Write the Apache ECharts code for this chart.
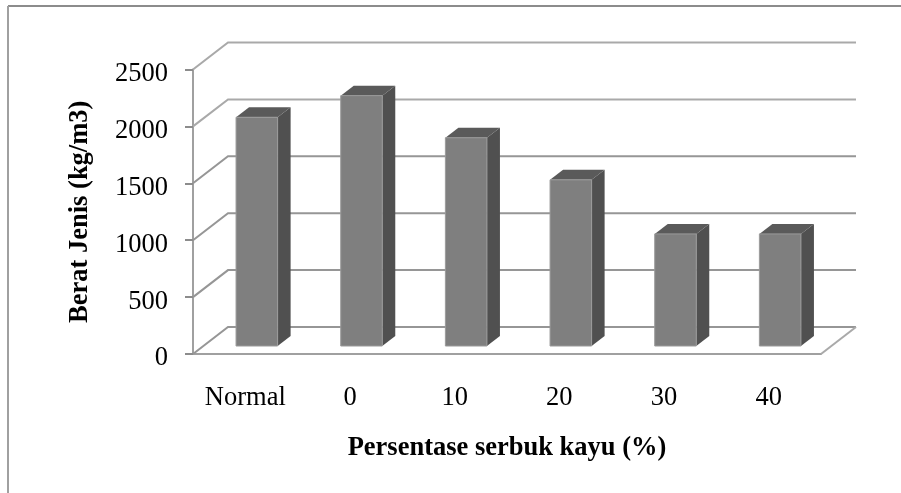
<!DOCTYPE html>
<html>
<head>
<meta charset="utf-8">
<style>
html,body{margin:0;padding:0;background:#fff;}
#chart{width:901px;height:493px;}
</style>
<script src="https://cdn.jsdelivr.net/npm/echarts@6/dist/echarts.min.js"></script>
</head>
<body>
<div id="chart"></div>
<script>
var categories = ['Normal', '0', '10', '20', '30', '40'];
var beratJenis = [2010, 2200, 1830, 1460, 985, 985];
var yTicks = [0, 500, 1000, 1500, 2000, 2500];

var fontName = '"Liberation Serif","Times New Roman",serif';
var wallDx = 35, wallDy = 27;   // depth of the chart box
var barDx = 13, barDy = 10;     // depth of one bar
var barShiftX = 11.5, barShiftY = 8;  // bars stand in the middle of the floor

function renderWall(params, api) {
	var cs = params.coordSys;
	var v = api.value(0);
	var y = api.coord([0, v])[1];
	var left = cs.x, right = cs.x + cs.width;
	var children = [{
		type: 'polyline',
		shape: {points: [[left, y], [left + wallDx, y - wallDy], [right + wallDx, y - wallDy]]},
		style: {fill: null, stroke: v === 2500 || v === 2000 ? '#a9a9a9' : '#969696', lineWidth: 2}
	}];
	if (v === 0) {
		// right edge of the floor
		children.push({
			type: 'line',
			shape: {x1: right, y1: y, x2: right + wallDx, y2: y - wallDy},
			style: {stroke: '#a9a9a9', lineWidth: 2}
		});
	}
	return {type: 'group', children: children};
}

function renderBar(params, api) {
	var top = api.coord([api.value(0), api.value(1)]);
	var base = api.coord([api.value(0), 0]);
	var w = api.size([1, 0])[0] * 0.397;
	var x0 = top[0] - w / 2 + barShiftX, x1 = x0 + w;
	var yt = top[1] - barShiftY, yb = base[1] - barShiftY;
	return {type: 'group', children: [
		{type: 'polygon', shape: {points: [[x1, yt], [x1 + barDx, yt - barDy], [x1 + barDx, yb - barDy], [x1, yb]]}, style: {fill: '#505050'}},
		{type: 'polygon', shape: {points: [[x0, yt], [x0 + barDx, yt - barDy], [x1 + barDx, yt - barDy], [x1, yt]]}, style: {fill: '#5a5a5a'}},
		{type: 'rect', shape: {x: x0, y: yt, width: w, height: yb - yt}, style: {fill: '#7f7f7f', stroke: '#9a9a9a', lineWidth: 1}}
	]};
}

var option = {
	animation: false,
	backgroundColor: '#fff',
	grid: {left: 193, top: 69.5, width: 628, height: 284.5, containLabel: false},
	xAxis: {
		type: 'category',
		data: categories,
		boundaryGap: true,
		name: 'Persentase serbuk kayu (%)',
		nameLocation: 'middle',
		nameGap: 81,
		nameTextStyle: {fontFamily: fontName, fontSize: 26.5, fontWeight: 'bold', color: '#000'},
		axisLine: {lineStyle: {color: '#a0a0a0', width: 2}},
		axisTick: {show: false},
		axisLabel: {interval: 0, margin: 31, fontFamily: fontName, fontSize: 26.5, color: '#000'}
	},
	yAxis: {
		type: 'value',
		min: 0,
		max: 2500,
		interval: 500,
		name: 'Berat Jenis (kg/m3)',
		nameLocation: 'middle',
		nameGap: 99,
		nameTextStyle: {fontFamily: fontName, fontSize: 26.5, fontWeight: 'bold', color: '#000'},
		axisLine: {show: true, lineStyle: {color: '#a0a0a0', width: 2}},
		axisTick: {show: true, length: 8, lineStyle: {color: '#8c8c8c', width: 2}},
		axisLabel: {margin: 25, verticalAlign: 'top', lineHeight: 9, fontFamily: fontName, fontSize: 26.5, color: '#000', formatter: function (v) { return String(v); }},
		splitLine: {show: false}
	},
	graphic: [
		{type: 'line', silent: true, shape: {x1: 8, y1: 6, x2: 901, y2: 6}, style: {stroke: '#8c8c8c', lineWidth: 2}},
		{type: 'line', silent: true, shape: {x1: 8, y1: 6, x2: 8, y2: 493}, style: {stroke: '#a0a0a0', lineWidth: 2}}
	],
	series: [
		{type: 'custom', renderItem: renderWall, data: yTicks.map(function (v) { return [v]; }), encode: {y: 0}, silent: true, z: 1},
		{type: 'custom', renderItem: renderBar, data: beratJenis.map(function (v, i) { return [i, v]; }), encode: {x: 0, y: 1}, silent: true, z: 2}
	]
};

var myChart = echarts.init(document.getElementById('chart'));
myChart.setOption(option);
</script>
</body>
</html>
